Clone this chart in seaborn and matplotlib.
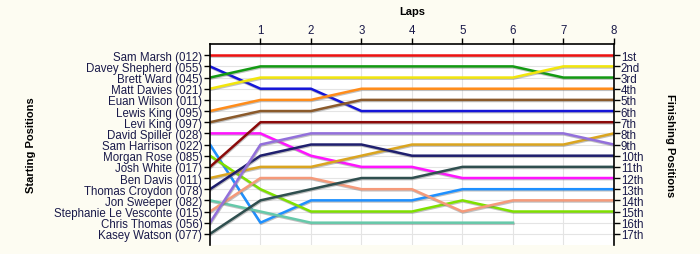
import matplotlib
matplotlib.use("Agg")
import matplotlib.pyplot as plt
import matplotlib.patheffects as pe
import seaborn as sns
import pandas as pd

drivers = ["Sam Marsh (012)", "Davey Shepherd (055)", "Brett Ward (045)", "Matt Davies (021)",
           "Euan Wilson (011)", "Lewis King (095)", "Levi King (097)", "David Spiller (028)",
           "Sam Harrison (022)", "Morgan Rose (085)", "Josh White (017)", "Ben Davis (011)",
           "Thomas Croydon (078)", "Jon Sweeper (082)", "Stephanie Le Vesconte (015)",
           "Chris Thomas (056)", "Kasey Watson (077)"]
finish_labels = ["1st", "2nd", "3rd", "4th", "5th", "6th", "7th", "8th", "9th", "10th",
                 "11th", "12th", "13th", "14th", "15th", "16th", "17th"]
lap_ticks = [1, 2, 3, 4, 5, 6, 7, 8]

# positions per lap (lap 0 = start)
pos_sam_marsh = [1, 1, 1, 1, 1, 1, 1, 1, 1]
pos_davey_shepherd = [2, 4, 4, 6, 6, 6, 6, 6, 6]
pos_brett_ward = [3, 2, 2, 2, 2, 2, 2, 3, 3]
pos_matt_davies = [4, 3, 3, 3, 3, 3, 3, 2, 2]
pos_euan_wilson = []
pos_lewis_king = [6, 5, 5, 4, 4, 4, 4, 4, 4]
pos_levi_king = [7, 6, 6, 5, 5, 5, 5, 5, 5]
pos_david_spiller = [8, 8, 10, 11, 11, 12, 12, 12, 12]
pos_sam_harrison = [9, 16, 14, 14, 14, 13, 13, 13, 13]
pos_morgan_rose = [10, 13, 15, 15, 15, 14, 15, 15, 15]
pos_josh_white = [11, 7, 7, 7, 7, 7, 7, 7, 7]
pos_ben_davis = [12, 11, 11, 10, 9, 9, 9, 9, 8]
pos_thomas_croydon = [13, 10, 9, 9, 10, 10, 10, 10, 10]
pos_jon_sweeper = [14, 15, 16, 16, 16, 16, 16]
pos_stephanie = [15, 12, 12, 13, 13, 15, 14, 14, 14]
pos_chris_thomas = [16, 9, 8, 8, 8, 8, 8, 8, 9]
pos_kasey_watson = [17, 14, 13, 12, 12, 11, 11, 11, 11]

series = [pos_sam_marsh, pos_davey_shepherd, pos_brett_ward, pos_matt_davies, pos_euan_wilson,
          pos_lewis_king, pos_levi_king, pos_david_spiller, pos_sam_harrison, pos_morgan_rose,
          pos_josh_white, pos_ben_davis, pos_thomas_croydon, pos_jon_sweeper, pos_stephanie,
          pos_chris_thomas, pos_kasey_watson]

colors = ["#ee1111", "#1515d8", "#139a13", "#f2e60c", "#999999", "#ff8c1a", "#8b5a2b", "#ff14ff",
          "#1e90ff", "#7fe000", "#8b0a0a", "#daa520", "#1f1f6e", "#66c9aa", "#f59a7a",
          "#9370db", "#2f4f4f"]

rows = []
for d, s in zip(drivers, series):
    for lap, p in enumerate(s):
        rows.append({"driver": d, "lap": lap, "pos": p})
df = pd.DataFrame(rows)

plt.rcParams["font.family"] = ["Liberation Sans", "DejaVu Sans"]
bg = "#fdfcf2"
fig = plt.figure(figsize=(7, 2.55), dpi=100, facecolor=bg)
ax = fig.add_axes([0.3, 0.0353, 0.577, 0.788])
ax.set_facecolor("#ffffff")

palette = {d: c for d, c in zip(drivers, colors)}
sns.lineplot(data=df, x="lap", y="pos", hue="driver", palette=palette, units="driver",
             estimator=None, sort=False, legend=False, linewidth=1.8, ax=ax)
for ln in ax.get_lines():
    ln.set_path_effects([pe.SimpleLineShadow(offset=(0.4, -0.8), shadow_color="#777777", alpha=0.45),
                         pe.Normal()])

ax.set_xlim(0, 8)
ax.set_ylim(18, 0)
ax.set_xticks(lap_ticks)
ax.xaxis.tick_top()
ax.xaxis.set_label_position("top")
ax.set_yticks(range(1, 18))
ax.set_yticklabels(drivers)
ax.set_xlabel("Laps", fontsize=8, fontweight="bold")
ax.xaxis.set_label_coords(0.5, 1.15)
ax.set_ylabel("Starting Positions", fontsize=8, fontweight="bold")
ax.yaxis.set_label_coords(-0.43, 0.5)
ax.tick_params(axis="both", labelsize=8.3, labelcolor="#1a1a4a", length=4, width=1, direction="out", pad=1.5)
ax.grid(True, color="#e4e4e4", linewidth=0.8)
ax.set_axisbelow(True)
ax.spines["bottom"].set_visible(False)
ax.spines["right"].set_visible(False)
ax.spines["left"].set_linewidth(1.2)
ax.spines["top"].set_linewidth(1.2)

ax2 = ax.twinx()
ax2.set_ylim(18, 0)
ax2.set_yticks(range(1, 18))
ax2.set_yticklabels(finish_labels)
ax2.tick_params(axis="y", labelsize=8.3, labelcolor="#1a1a4a", length=4, width=1, pad=1)
ax2.set_ylabel("Finishing Positions", fontsize=8, fontweight="bold", rotation=-90, va="center")
ax2.yaxis.set_label_coords(1.14, 0.5)
for s in ["top", "bottom", "left"]:
    ax2.spines[s].set_visible(False)
ax2.spines["right"].set_linewidth(1.2)

fig.savefig("out.png", dpi=100, facecolor=bg)
